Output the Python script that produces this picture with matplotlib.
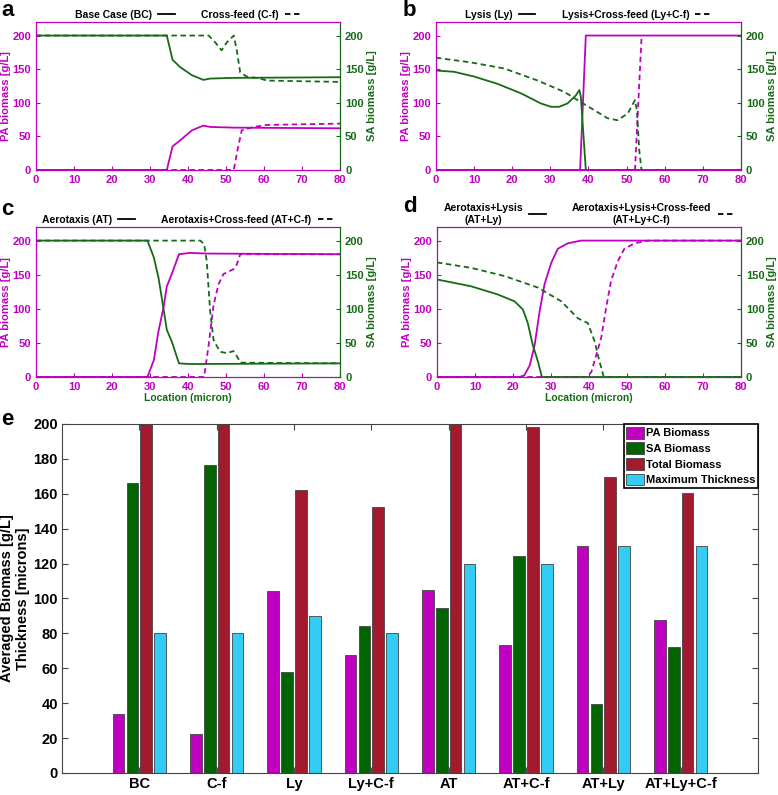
import numpy as np
import matplotlib.pyplot as plt
from matplotlib.lines import Line2D

plt.rcParams.update({'font.family': ['Liberation Sans', 'DejaVu Sans'],
                     'font.weight': 'bold', 'axes.labelweight': 'bold'})

PA_COL = '#c000c0'
SA_COL = '#156b15'

# ---- panel a: Base Case / Cross-feed
a_sa_x = [0, 34.4, 35.9, 37.9, 41, 44, 45.8, 52, 80]
a_sa_y = [200, 200, 164, 153, 141, 134, 136, 137, 138]
a_pa_x = [0, 34.4, 35.9, 37.9, 41, 44, 45.8, 52, 80]
a_pa_y = [0, 0, 35, 44, 59, 66, 64, 63, 62]
a_sa_cf_x = [0, 45.4, 47.1, 48.8, 50.2, 52, 52.8, 53.7, 55.4, 59, 60.7, 80]
a_sa_cf_y = [200, 200, 190, 178, 190, 200, 178, 145, 139, 136, 133, 131]
a_pa_cf_x = [0, 52, 53, 54.1, 57.2, 60.7, 80]
a_pa_cf_y = [0, 0, 30, 59, 64, 67, 69]

# ---- panel b: Lysis / Lysis+Cross-feed
b_sa_x = [0, 4.8, 10, 16.2, 22.3, 27.5, 30.2, 32.3, 34.5, 36.7, 37.6, 38, 39.3, 80]
b_sa_y = [148, 146, 139, 128, 114, 99, 94, 94, 99, 111, 119, 109, 0, 0]
b_pa_x = [0, 37.8, 39.3, 80]
b_pa_y = [0, 0, 200, 200]
b_sa_cf_x = [0, 9.2, 17.9, 26.7, 33.7, 38, 41.5, 45, 47.6, 50.3, 52.2, 52.7, 53.3, 53.9, 80]
b_sa_cf_y = [167, 160, 151, 133, 116, 101, 89, 77, 74, 84, 104, 89, 30, 0, 0]
b_pa_cf_x = [0, 52.2, 53.9]
b_pa_cf_y = [0, 0, 195]

# ---- panel c: Aerotaxis / Aerotaxis+Cross-feed
c_sa_x = [0, 29.3, 31, 32.2, 33.5, 34.4, 35.7, 37.6, 40.5, 80]
c_sa_y = [200, 200, 175, 146, 101, 69, 52, 20, 19, 20]
c_pa_x = [0, 29.3, 31, 32.2, 33.5, 34.4, 35.7, 37.6, 40.5, 44.9, 80]
c_pa_y = [0, 0, 25, 67, 101, 133, 151, 180, 182, 181, 180]
c_sa_cf_x = [0, 43.2, 44.2, 44.9, 45.8, 46.7, 48.4, 50.2, 51.9, 53.2, 53.7, 80]
c_sa_cf_y = [200, 200, 195, 170, 96, 54, 37, 35, 38, 27, 21, 20]
c_pa_cf_x = [0, 44.2, 45.4, 46.7, 48, 49.3, 51.9, 52.8, 53.7, 80]
c_pa_cf_y = [0, 0, 47, 106, 136, 151, 158, 165, 180, 180]

# ---- panel d: Aerotaxis+Lysis / Aerotaxis+Lysis+Cross-feed
d_sa_x = [0, 9, 16, 20.4, 22.6, 23.9, 25.2, 26.6, 27.6, 80]
d_sa_y = [143, 133, 121, 111, 99, 79, 47, 22, 0, 0]
d_pa_x = [0, 21.7, 23, 24.4, 25.7, 27, 28.3, 30.1, 31.8, 34.4, 37.9, 80]
d_pa_y = [0, 0, 2.5, 17, 47, 96, 136, 168, 188, 196, 200, 200]
d_sa_cf_x = [0, 9, 17.8, 26.6, 32.7, 37.1, 39.7, 41.5, 42.8, 43.9, 80]
d_sa_cf_y = [168, 160, 148, 131, 111, 86, 79, 52, 22, 0, 0]
d_pa_cf_x = [0, 39.3, 40.6, 41.9, 43.2, 44.5, 45.8, 47.6, 49.3, 52, 55.5, 80]
d_pa_cf_y = [0, 0, 7, 32, 57, 101, 141, 170, 188, 196, 200, 200]

# ---- panel e: averaged biomass bars
categories = ['BC', 'C-f', 'Ly', 'Ly+C-f', 'AT', 'AT+C-f', 'AT+Ly', 'AT+Ly+C-f']
pa_biomass = [34, 22.5, 104, 67.5, 105, 73.5, 130, 87.6]
sa_biomass = [166, 176.5, 58, 84.5, 94.8, 124.6, 39.5, 72.3]
total_biomass = [205, 205, 162, 152.5, 205, 198.5, 169.7, 160.3]
max_thickness = [80, 80, 90, 80, 120, 120, 130, 130]
bar_labels = ['PA Biomass', 'SA Biomass', 'Total Biomass', 'Maximum Thickness']
bar_colors = ['#c000c0', '#006400', '#a3192e', '#33ccf5']

W, H = 778, 795
fig = plt.figure(figsize=(W / 100, H / 100), dpi=100)


def letter(px, py, s):
    fig.text(px / W, 1 - py / H, s, fontsize=16, fontweight='bold', va='top')


def line_panel(rect, pa, sa, pa_cf, sa_cf, labels, xlabel=False):
    ax = fig.add_axes(rect)
    ax2 = ax.twinx()
    ax.plot(*pa, color=PA_COL, lw=1.3)
    ax.plot(*pa_cf, color=PA_COL, lw=1.3, ls=(0, (3, 2)))
    ax2.plot(*sa, color=SA_COL, lw=1.3)
    ax2.plot(*sa_cf, color=SA_COL, lw=1.3, ls=(0, (3, 2)))
    for a in (ax, ax2):
        a.set_xlim(0, 80)
        a.set_ylim(0, 220)
        a.set_yticks([0, 50, 100, 150, 200])
    ax.set_xticks(range(0, 81, 10))
    ax.tick_params(axis='both', direction='in', labelsize=8, colors=PA_COL, length=3)
    ax2.tick_params(axis='y', direction='in', labelsize=8, colors=SA_COL, length=3)
    for t in ax.get_xticklabels() + ax.get_yticklabels() + ax2.get_yticklabels():
        t.set_fontweight('bold')
    for s in ('left', 'top', 'bottom'):
        ax2.spines[s].set_color(PA_COL)
    ax2.spines['right'].set_color(SA_COL)
    ax.set_ylabel('PA biomass [g/L]', color=PA_COL, fontsize=8, labelpad=1)
    ax2.set_ylabel('SA biomass [g/L]', color=SA_COL, fontsize=8, labelpad=2)
    if xlabel:
        ax.set_xlabel('Location (micron)', color=SA_COL, fontsize=7.5, labelpad=1)
    handles = [Line2D([], [], color='k', lw=1.3),
               Line2D([], [], color='k', lw=1.3, ls=(0, (3, 2)))]
    leg = ax2.legend(handles, labels, ncol=2, markerfirst=False, frameon=False,
                     loc='lower center', bbox_to_anchor=(0.5, 1.0),
                     handlelength=1.6, handletextpad=0.6, columnspacing=2.5,
                     borderaxespad=0.1, borderpad=0.1, prop={'weight': 'bold', 'size': 7.5})
    for t in leg.get_texts():
        t.set_multialignment('center')
    return ax


line_panel([0.0463, 0.7862, 0.391, 0.186], (a_pa_x, a_pa_y), (a_sa_x, a_sa_y),
           (a_pa_cf_x, a_pa_cf_y), (a_sa_cf_x, a_sa_cf_y),
           ['Base Case (BC)', 'Cross-feed (C-f)'])
line_panel([0.5604, 0.7862, 0.392, 0.186], (b_pa_x, b_pa_y), (b_sa_x, b_sa_y),
           (b_pa_cf_x, b_pa_cf_y), (b_sa_cf_x, b_sa_cf_y),
           ['Lysis (Ly)', 'Lysis+Cross-feed (Ly+C-f)'])
line_panel([0.0463, 0.5258, 0.391, 0.1887], (c_pa_x, c_pa_y), (c_sa_x, c_sa_y),
           (c_pa_cf_x, c_pa_cf_y), (c_sa_cf_x, c_sa_cf_y),
           ['Aerotaxis (AT)', 'Aerotaxis+Cross-feed (AT+C-f)'], xlabel=True)
line_panel([0.5617, 0.5258, 0.3907, 0.1887], (d_pa_x, d_pa_y), (d_sa_x, d_sa_y),
           (d_pa_cf_x, d_pa_cf_y), (d_sa_cf_x, d_sa_cf_y),
           ['Aerotaxis+Lysis\n(AT+Ly)', 'Aerotaxis+Lysis+Cross-feed\n(AT+Ly+C-f)'], xlabel=True)
letter(1, 0, 'a')
letter(403, 0, 'b')
letter(1, 199, 'c')
letter(403, 196, 'd')
letter(1, 409, 'e')

# ---- bar chart
axe = fig.add_axes([0.0797, 0.0277, 0.8946, 0.439])
x = np.arange(1, len(categories) + 1)
offsets = [-0.27, -0.09, 0.09, 0.27]
for vals, off, col, lab in zip([pa_biomass, sa_biomass, total_biomass, max_thickness],
                               offsets, bar_colors, bar_labels):
    axe.bar(x + off, vals, width=0.15, color=col, edgecolor='#444444', lw=0.6, label=lab)
axe.set_xlim(0, 9)
axe.set_ylim(0, 200)
axe.set_xticks(x)
axe.set_xticklabels(categories)
axe.set_yticks(range(0, 201, 20))
axe.tick_params(direction='in', top=True, right=True, labelsize=10.5, length=4,
                color='#444444', pad=3)
for t in axe.get_xticklabels() + axe.get_yticklabels():
    t.set_fontweight('bold')
for s in axe.spines.values():
    s.set_color('#444444')
axe.set_ylabel('Averaged Biomass [g/L]\nThickness [microns]', fontsize=10.5, labelpad=2)
leg = axe.legend(loc='upper right', fancybox=False, edgecolor='k', framealpha=1,
                 borderaxespad=0, borderpad=0.25, labelspacing=0.35, handlelength=1.6,
                 handleheight=1.25, handletextpad=0.15, prop={'weight': 'bold', 'size': 8.0})
leg.get_frame().set_linewidth(1.2)

fig.savefig('out.png', dpi=100)
